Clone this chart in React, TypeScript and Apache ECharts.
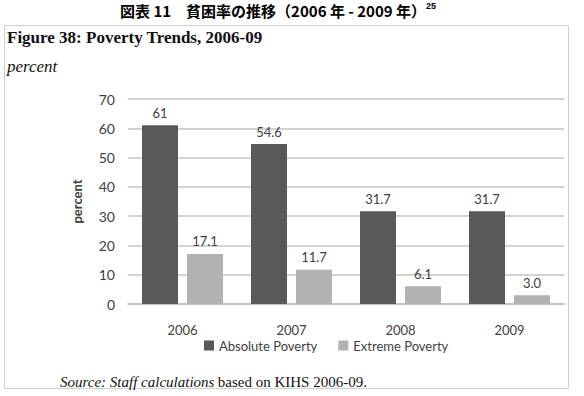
import React, { useEffect, useRef } from "react";
import * as echarts from "echarts";

const categories = ["2006", "2007", "2008", "2009"];
const absolutePoverty = [61, 54.6, 31.7, 31.7];
const extremePoverty = [17.1, 11.7, 6.1, 3.0];
const absoluteLabels = ["61", "54.6", "31.7", "31.7"];
const extremeLabels = ["17.1", "11.7", "6.1", "3.0"];
const seriesNames = ["Absolute Poverty", "Extreme Poverty"];
const yTicks = { min: 0, max: 70, interval: 10 };

const SANS = "Lato, 'Open Sans', sans-serif";
const SERIF = "'Liberation Serif', 'DejaVu Serif', serif";

export default function App() {
  const ref = useRef<HTMLDivElement>(null);
  useEffect(() => {
    if (!ref.current) return;
    const chart = echarts.init(ref.current, undefined, { renderer: "svg" });
    const labelStyle = {
      show: true,
      position: "top" as const,
      distance: 6,
      color: "#404040",
      fontFamily: SANS,
      fontSize: 13,
    };
    chart.setOption({
      animation: false,
      backgroundColor: "#ffffff",
      grid: { left: 128, right: 20, top: 99, bottom: 92 },
      legend: {
        data: seriesNames,
        left: 199,
        top: 334,
        itemWidth: 10,
        itemHeight: 10,
        itemGap: 21,
        icon: "rect",
        textStyle: { color: "#404040", fontFamily: SANS, fontSize: 13 },
      },
      xAxis: {
        type: "category",
        data: categories,
        axisTick: { show: false },
        axisLine: { lineStyle: { color: "#bfbfbf", width: 1.5 } },
        axisLabel: { color: "#404040", fontFamily: SANS, fontSize: 13, margin: 19 },
      },
      yAxis: {
        type: "value",
        min: yTicks.min,
        max: yTicks.max,
        interval: yTicks.interval,
        name: "percent",
        nameLocation: "middle",
        nameRotate: 90,
        nameGap: 45,
        nameTextStyle: { color: "#404040", fontFamily: SANS, fontSize: 13, fontWeight: "bold" },
        axisLine: { show: false },
        axisTick: { show: false },
        axisLabel: { color: "#404040", fontFamily: SANS, fontSize: 14, margin: 13 },
        splitLine: { lineStyle: { color: "#c4c4c4", width: 1.5 } },
      },
      series: [
        {
          name: seriesNames[0],
          type: "bar",
          data: absolutePoverty,
          barWidth: 36,
          barGap: "25%",
          itemStyle: { color: "#595959" },
          label: { ...labelStyle, formatter: (p: any) => absoluteLabels[p.dataIndex] },
        },
        {
          name: seriesNames[1],
          type: "bar",
          data: extremePoverty,
          barWidth: 36,
          itemStyle: { color: "#b2b2b2" },
          label: { ...labelStyle, formatter: (p: any) => extremeLabels[p.dataIndex] },
        },
      ],
      graphic: [
        {
          type: "rect",
          shape: { x: 4.5, y: 25.5, width: 564, height: 363 },
          style: { fill: "none", stroke: "#cfcfcf", lineWidth: 1 },
          silent: true,
        },
        {
          type: "text",
          x: 120,
          y: 10,
          style: {
            text: "{m|図表 11　貧困率の推移（2006 年 - 2009 年）}{s|25}",
            verticalAlign: "middle",
            rich: {
              m: { fontFamily: "'Noto Sans CJK JP', sans-serif", fontWeight: "bold", fontSize: 15, fill: "#000", lineHeight: 18 },
              s: { fontFamily: "'Liberation Sans', sans-serif", fontWeight: "bold", fontSize: 9, fill: "#000", verticalAlign: "top", lineHeight: 18 },
            },
          },
        },
        {
          type: "text",
          x: 7,
          y: 37,
          style: {
            text: "Figure 38: Poverty Trends, 2006-09",
            fontFamily: SERIF,
            fontWeight: "bold",
            fontSize: 17,
            fill: "#111",
            verticalAlign: "middle",
          },
        },
        {
          type: "text",
          x: 7,
          y: 66,
          style: {
            text: "percent",
            fontFamily: SERIF,
            fontStyle: "italic",
            fontSize: 17,
            fill: "#111",
            verticalAlign: "middle",
          },
        },
        {
          type: "text",
          x: 60,
          y: 382,
          style: {
            text: "{i|Source: Staff calculations} {n|based on KIHS 2006-09.}",
            verticalAlign: "middle",
            rich: {
              i: { fontFamily: SERIF, fontStyle: "italic", fontSize: 15, fill: "#111" },
              n: { fontFamily: SERIF, fontSize: 15, fill: "#111" },
            },
          },
        },
      ],
    });
    return () => chart.dispose();
  }, []);
  return <div ref={ref} style={{ position: "absolute", left: 0, top: 0, width: 584, height: 396 }} />;
}
